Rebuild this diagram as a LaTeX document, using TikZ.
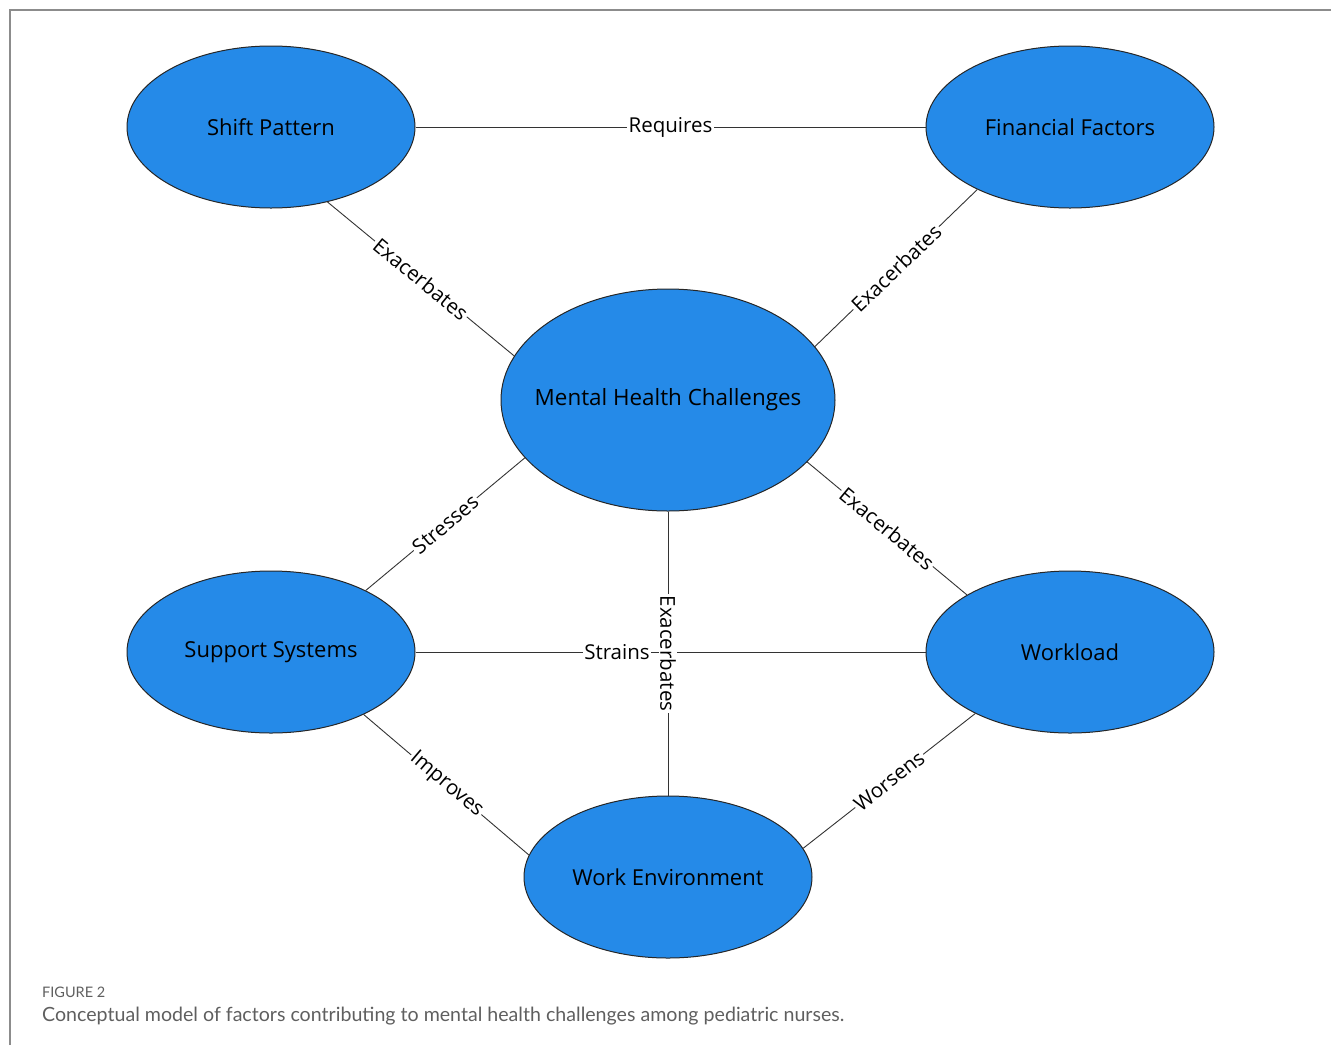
\documentclass[tikz,border=0pt]{standalone}
\usepackage{fontspec}
\setmainfont{Open Sans}
\newfontfamily\capfont{Lato}
\usetikzlibrary{shapes.geometric}
\definecolor{nodeblue}{RGB}{37,138,232}
\definecolor{framegray}{RGB}{140,140,140}
\definecolor{capgray}{RGB}{95,95,95}
\tikzset{
  concept/.style={ellipse, draw=black!85, line width=1pt, fill=nodeblue, inner sep=0pt,
    minimum width=288pt, minimum height=162pt, font=\fontsize{22}{26}\selectfont, text=black},
  bigconcept/.style={concept, inner xsep=-30pt, minimum width=334pt, minimum height=222pt, font=\fontsize{22.4}{26}\selectfont},
  link/.style={draw=black!80, line width=0.9pt},
  lbl/.style={fill=white, inner sep=1.5pt, font=\fontsize{20.5}{24}\selectfont, text=black}
}
\begin{document}
\begin{tikzpicture}[x=1pt,y=1pt]
\useasboundingbox (0,0) rectangle (1331,-1045);
\draw[framegray, line width=2pt] (10,-1045) -- (10,-10) -- (1331,-10);

\node[concept] (sp) at (271,-127) {Shift Pattern};
\node[concept] (ff) at (1070,-127) {Financial Factors};
\node[bigconcept] (mh) at (668,-400) {Mental Health Challenges};
\node[concept] (ss) at (271,-652) {Support Systems};
\node[concept] (wl) at (1070,-652) {Workload};
\node[concept] (we) at (668,-877) {Work Environment};

\draw[link] (sp.east) -- node[lbl] {Requires} (ff.west);
\draw[link] (sp.-53) -- node[lbl, sloped] {Exacerbates} (mh.164.5);
\draw[link] (ff.-146.7) -- node[lbl, sloped] {Exacerbates} (mh.20.8);
\draw[link] (mh.-158.6) -- node[lbl, sloped] {Stresses} (ss.33.1);
\draw[link] (mh.-24.2) -- node[lbl, sloped] {Exacerbates} (wl.151.5);
\draw[link] (ss.east) -- node[lbl, pos=0.395] {Strains} (wl.west);
\draw[link] (mh.south) -- node[lbl, rotate=-90] {Exacerbates} (we.north);
\draw[link] (ss.-34.3) -- node[lbl, sloped] {Improves} (we.171);
\draw[link] (wl.-147.3) -- node[lbl, sloped] {Worsens} (we.12.1);

\node[anchor=base west, inner sep=0pt, text=capgray, font=\capfont\fontsize{14.5}{17}\selectfont] (figlabel) at (42,-997) {FIGURE 2};
\node[anchor=base west, inner sep=0pt, text=capgray, font=\capfont\fontsize{19.6}{23}\selectfont] (caption) at (42,-1021) {Conceptual model of factors contributing to mental health challenges among pediatric nurses.};
\end{tikzpicture}
\end{document}
